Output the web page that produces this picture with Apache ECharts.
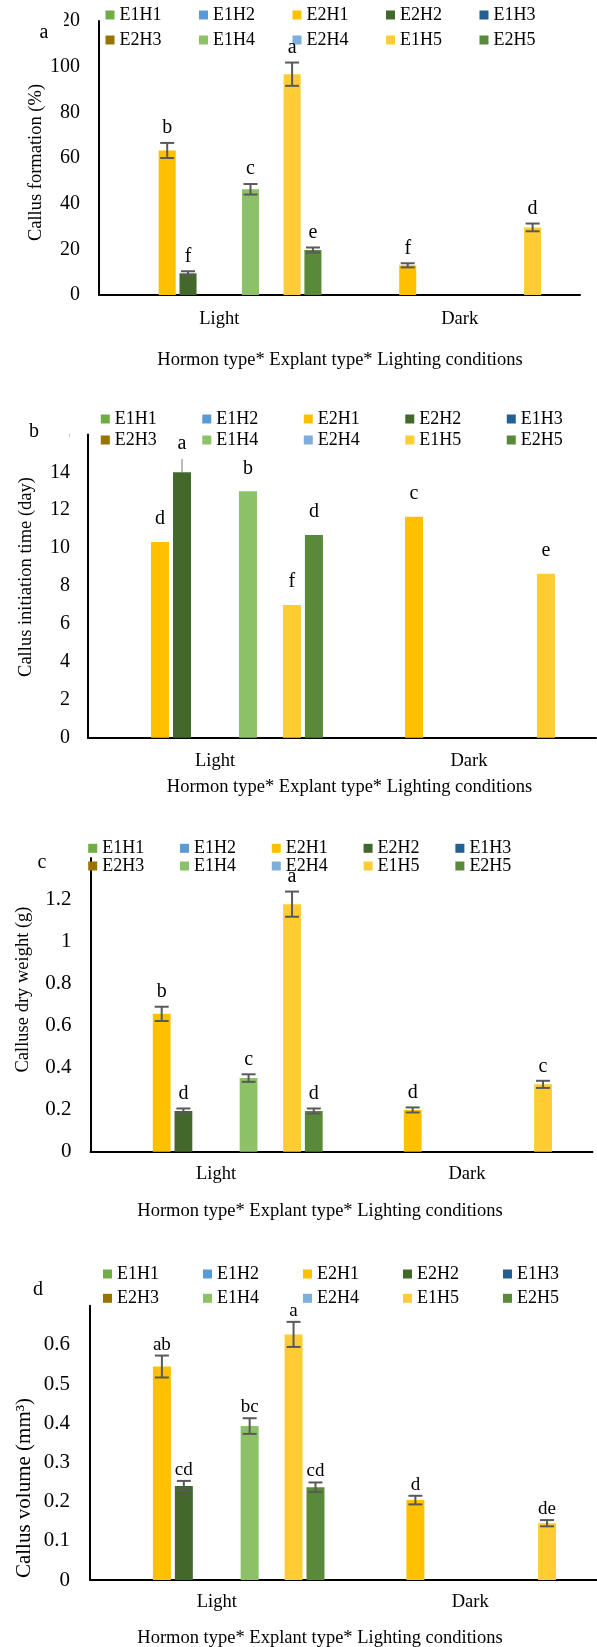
<!DOCTYPE html>
<html>
<head>
<meta charset="utf-8">
<script src="https://cdn.jsdelivr.net/npm/echarts@6/dist/echarts.min.js"></script>
<style>
html,body{margin:0;padding:0;background:#fff;}
#chart{width:597px;height:1647px;}
</style>
</head>
<body>
<div id="chart"></div>
<script>
// ---------- data ----------
const categories = ['Light', 'Dark'];
const seriesNames = ['E1H1','E1H2','E2H1','E2H2','E1H3','E2H3','E1H4','E2H4','E1H5','E2H5'];
const seriesColors = ['#70AD47','#5B9BD5','#FFC000','#43682B','#255E91','#997300','#8CC168','#7CAFDD','#FFCD33','#5A8A39'];

// (a) Callus formation (%)
const formationValues = [[0,0],[0,0],[63.3,13.0],[9.5,0],[0,0],[0,0],[46.3,0],[0,0],[96.7,29.6],[19.7,0]];
const formationErrors = [[0,0],[0,0],[3.3,0.9],[0.9,0],[0,0],[0,0],[2.3,0],[0,0],[5.1,1.7],[1.1,0]];
const formationLetters = [['',''],['',''],['b','f'],['f',''],['',''],['',''],['c',''],['',''],['a','d'],['e','']];
const formationTicks = [0, 20, 40, 60, 80, 100, 120];

// (b) Callus initiation time (day)
const initiationValues = [[0,0],[0,0],[10.32,11.66],[14.0,0],[0,0],[0,0],[13.0,0],[0,0],[7.0,8.65],[10.69,0]];
const initiationErrors = [[0,0],[0,0],[0,0],[0.7,0],[0,0],[0,0],[0,0],[0,0],[0,0],[0,0]];
const initiationLetters = [['',''],['',''],['d','c'],['a',''],['',''],['',''],['b',''],['',''],['f','e'],['d','']];
const initiationTicks = [0, 2, 4, 6, 8, 10, 12, 14, 16];

// (c) Calluse dry weight (g)
const dryWeightValues = [[0,0],[0,0],[0.657,0.199],[0.194,0],[0,0],[0,0],[0.351,0],[0,0],[1.18,0.321],[0.194,0]];
const dryWeightErrors = [[0,0],[0,0],[0.034,0.012],[0.012,0],[0,0],[0,0],[0.018,0],[0,0],[0.06,0.017],[0.012,0]];
const dryWeightLetters = [['',''],['',''],['b','d'],['d',''],['',''],['',''],['c',''],['',''],['a','c'],['d','']];
const dryWeightTicks = [0, 0.2, 0.4, 0.6, 0.8, 1.0, 1.2, 1.4];

// (d) Callus volume (mm3)
const volumeValues = [[0,0],[0,0],[0.545,0.204],[0.24,0],[0,0],[0,0],[0.393,0],[0,0],[0.627,0.145],[0.237,0]];
const volumeErrors = [[0,0],[0,0],[0.028,0.011],[0.013,0],[0,0],[0,0],[0.02,0],[0,0],[0.032,0.008],[0.012,0]];
const volumeLetters = [['',''],['',''],['ab','d'],['cd',''],['',''],['',''],['bc',''],['',''],['a','de'],['cd','']];
const volumeTicks = [0, 0.1, 0.2, 0.3, 0.4, 0.5, 0.6, 0.7];

const xTitle = 'Hormon type* Explant type* Lighting conditions';

// ---------- layout ----------
const SERIF = '"Liberation Serif","Times New Roman",serif';
const CAT_GAP = 0.15, BAR_GAP = 0.22;

const panels = [
  { tag:'a', yTitle:'Callus formation (%)', values:formationValues, errors:formationErrors, letters:formationLetters, ticks:formationTicks,
    grid:{left:99, top:21, width:481, height:274}, yLabelSize:20, yLabelMargin:19, xLabelMargin:14.5,
    legendLeft:105.5, legendRows:[15,40], legendSpacing:93.5,
    tagPos:[44,33], cover:[16,8,48,44], yTitlePos:[36.5,162.5], yTitleSize:18.5, xTitlePos:[340,360],
    gapErr:5, gapNo:5, letterSize:20, errUpOnly:false },
  { tag:'b', yTitle:'Callus initiation time (day)', values:initiationValues, errors:initiationErrors, letters:initiationLetters, ticks:initiationTicks,
    grid:{left:88, top:434.4, width:508, height:303.3}, yLabelSize:20, yLabelMargin:18, xLabelMargin:13.5,
    legendLeft:100.8, legendRows:[419,440], legendSpacing:101.5,
    tagPos:[34,432], cover:[10,414,59.3,34], yTitlePos:[26.6,577], yTitleSize:18.5, xTitlePos:[349.5,787],
    gapErr:5, gapNo:13, letterSize:20, errUpOnly:true },
  { tag:'c', yTitle:'Calluse dry weight (g)', values:dryWeightValues, errors:dryWeightErrors, letters:dryWeightLetters, ticks:dryWeightTicks,
    grid:{left:90.5, top:858, width:502, height:293.7}, yLabelSize:21, yLabelMargin:19, xLabelMargin:12.8,
    legendLeft:88.2, legendRows:[848.3,866], legendSpacing:91.8,
    tagPos:[42,863], cover:[14,845,61,30], yTitlePos:[23.6,989.5], yTitleSize:18.5, xTitlePos:[320,1210.7],
    gapErr:4.5, gapNo:4.5, letterSize:20, errUpOnly:false },
  { tag:'d', yTitle:'Callus volume (mm\u00B3)', values:volumeValues, errors:volumeErrors, letters:volumeLetters, ticks:volumeTicks,
    grid:{left:90, top:1305.8, width:513, height:274.2}, yLabelSize:21, yLabelMargin:20, xLabelMargin:12.2,
    legendLeft:103, legendRows:[1274,1298.3], legendSpacing:100,
    tagPos:[38,1290], cover:[10,1280,63,38], yTitlePos:[24,1488], yTitleSize:21, xTitlePos:[320,1638],
    gapErr:1.5, gapNo:1.5, letterSize:19, errUpOnly:false }
];

const option = {
  backgroundColor:'#fff',
  animation:false,
  grid:[], xAxis:[], yAxis:[], legend:[], series:[], graphic:{elements:[]}
};

const LEGEND_ITEM_W = 9 + 5 + 42;

panels.forEach((p, pi) => {
  option.grid.push(Object.assign({containLabel:false}, p.grid));
  option.xAxis.push({
    type:'category', gridIndex:pi, data:categories,
    axisLine:{show:true, lineStyle:{color:'#000', width:2}},
    axisTick:{show:false},
    axisLabel:{fontFamily:SERIF, fontSize:18.5, color:'#000', margin:p.xLabelMargin},
    splitLine:{show:false}
  });
  const t = p.ticks;
  option.yAxis.push({
    type:'value', gridIndex:pi, min:t[0], max:t[t.length-1], interval:t[1]-t[0],
    axisLine:{show:true, lineStyle:{color:'#000', width:2}},
    axisTick:{show:false},
    splitLine:{show:false},
    axisLabel:{fontFamily:SERIF, fontSize:p.yLabelSize, color:'#000', margin:p.yLabelMargin}
  });
  // two legend rows
  [seriesNames.slice(0,5), seriesNames.slice(5)].forEach((names, ri) => {
    option.legend.push({
      data:names, left:p.legendLeft, top:p.legendRows[ri]-10, orient:'horizontal',
      itemWidth:9, itemHeight:9, itemGap:p.legendSpacing - LEGEND_ITEM_W, padding:0,
      icon:'rect', selectedMode:false,
      textStyle:{fontFamily:SERIF, fontSize:18, color:'#000', lineHeight:20}
    });
  });
  // bars
  seriesNames.forEach((name, si) => {
    option.series.push({
      type:'bar', name:name, xAxisIndex:pi, yAxisIndex:pi,
      data:p.values[si],
      itemStyle:{color:seriesColors[si]},
      barCategoryGap:(CAT_GAP*100)+'%', barGap:(BAR_GAP*100)+'%'
    });
  });
  // error bars + significance letters
  const items = [];
  seriesNames.forEach((name, si) => {
    categories.forEach((c, ci) => {
      const letter = p.letters[si][ci];
      const err = p.errors[si][ci];
      if (letter || err > 0) items.push({ci, si, val:p.values[si][ci], err, letter});
    });
  });
  option.series.push({
    type:'custom', name:'err'+p.tag, xAxisIndex:pi, yAxisIndex:pi, z:5, clip:false,
    data:items.map(it => [it.ci, it.val]),
    encode:{x:0, y:1},
    renderItem:function(params, api){
      const it = items[params.dataIndex];
      const N = seriesNames.length;
      const base = api.coord([it.ci, 0]);
      const topY = api.coord([it.ci, it.val])[1];
      const bandW = api.size([1, 0])[0];
      const bw = bandW*(1-CAT_GAP)/(N + (N-1)*BAR_GAP);
      const step = bw*(1+BAR_GAP);
      const cx = base[0] + (it.si - (N-1)/2)*step;
      const children = [];
      let refY = topY, gap = p.gapNo;
      if (it.err > 0) {
        const yHi = api.coord([it.ci, it.val + it.err])[1];
        const yLo = api.coord([it.ci, it.val - it.err])[1];
        refY = yHi; gap = p.gapErr;
        if (p.errUpOnly) {
          children.push({type:'line', shape:{x1:cx, y1:topY, x2:cx, y2:yHi}, style:{stroke:'#A6A6A6', lineWidth:1.5}});
        } else {
          const st = {stroke:'#595959', lineWidth:2};
          children.push({type:'line', shape:{x1:cx, y1:yLo, x2:cx, y2:yHi}, style:st});
          children.push({type:'line', shape:{x1:cx-7, y1:yHi, x2:cx+7, y2:yHi}, style:st});
          children.push({type:'line', shape:{x1:cx-7, y1:yLo, x2:cx+7, y2:yLo}, style:st});
        }
      }
      if (it.letter) {
        children.push({type:'text', style:{text:it.letter, x:cx, y:refY-gap, align:'center', verticalAlign:'bottom',
          font:p.letterSize+'px '+SERIF, fill:'#000'}});
      }
      return {type:'group', children};
    }
  });
  // panel tag with white box (covers the top tick label as in the original)
  option.graphic.elements.push({type:'rect', z:100, shape:{x:p.cover[0], y:p.cover[1], width:p.cover[2], height:p.cover[3]}, style:{fill:'#fff'}});
  option.graphic.elements.push({type:'text', z:101, x:p.tagPos[0], y:p.tagPos[1],
    style:{text:p.tag, font:'20px '+SERIF, fill:'#000', align:'center', verticalAlign:'middle'}});
  // axis titles
  option.graphic.elements.push({type:'text', z:50, x:p.yTitlePos[0], y:p.yTitlePos[1], rotation:Math.PI/2,
    style:{text:p.yTitle, font:p.yTitleSize+'px '+SERIF, fill:'#000', align:'center', verticalAlign:'middle'}});
  option.graphic.elements.push({type:'text', z:50, x:p.xTitlePos[0], y:p.xTitlePos[1],
    style:{text:xTitle, font:'18.5px '+SERIF, fill:'#000', align:'center', verticalAlign:'middle'}});
});

const chart = echarts.init(document.getElementById('chart'), null, {renderer:'canvas', width:597, height:1647});
chart.setOption(option);
</script>
</body>
</html>
